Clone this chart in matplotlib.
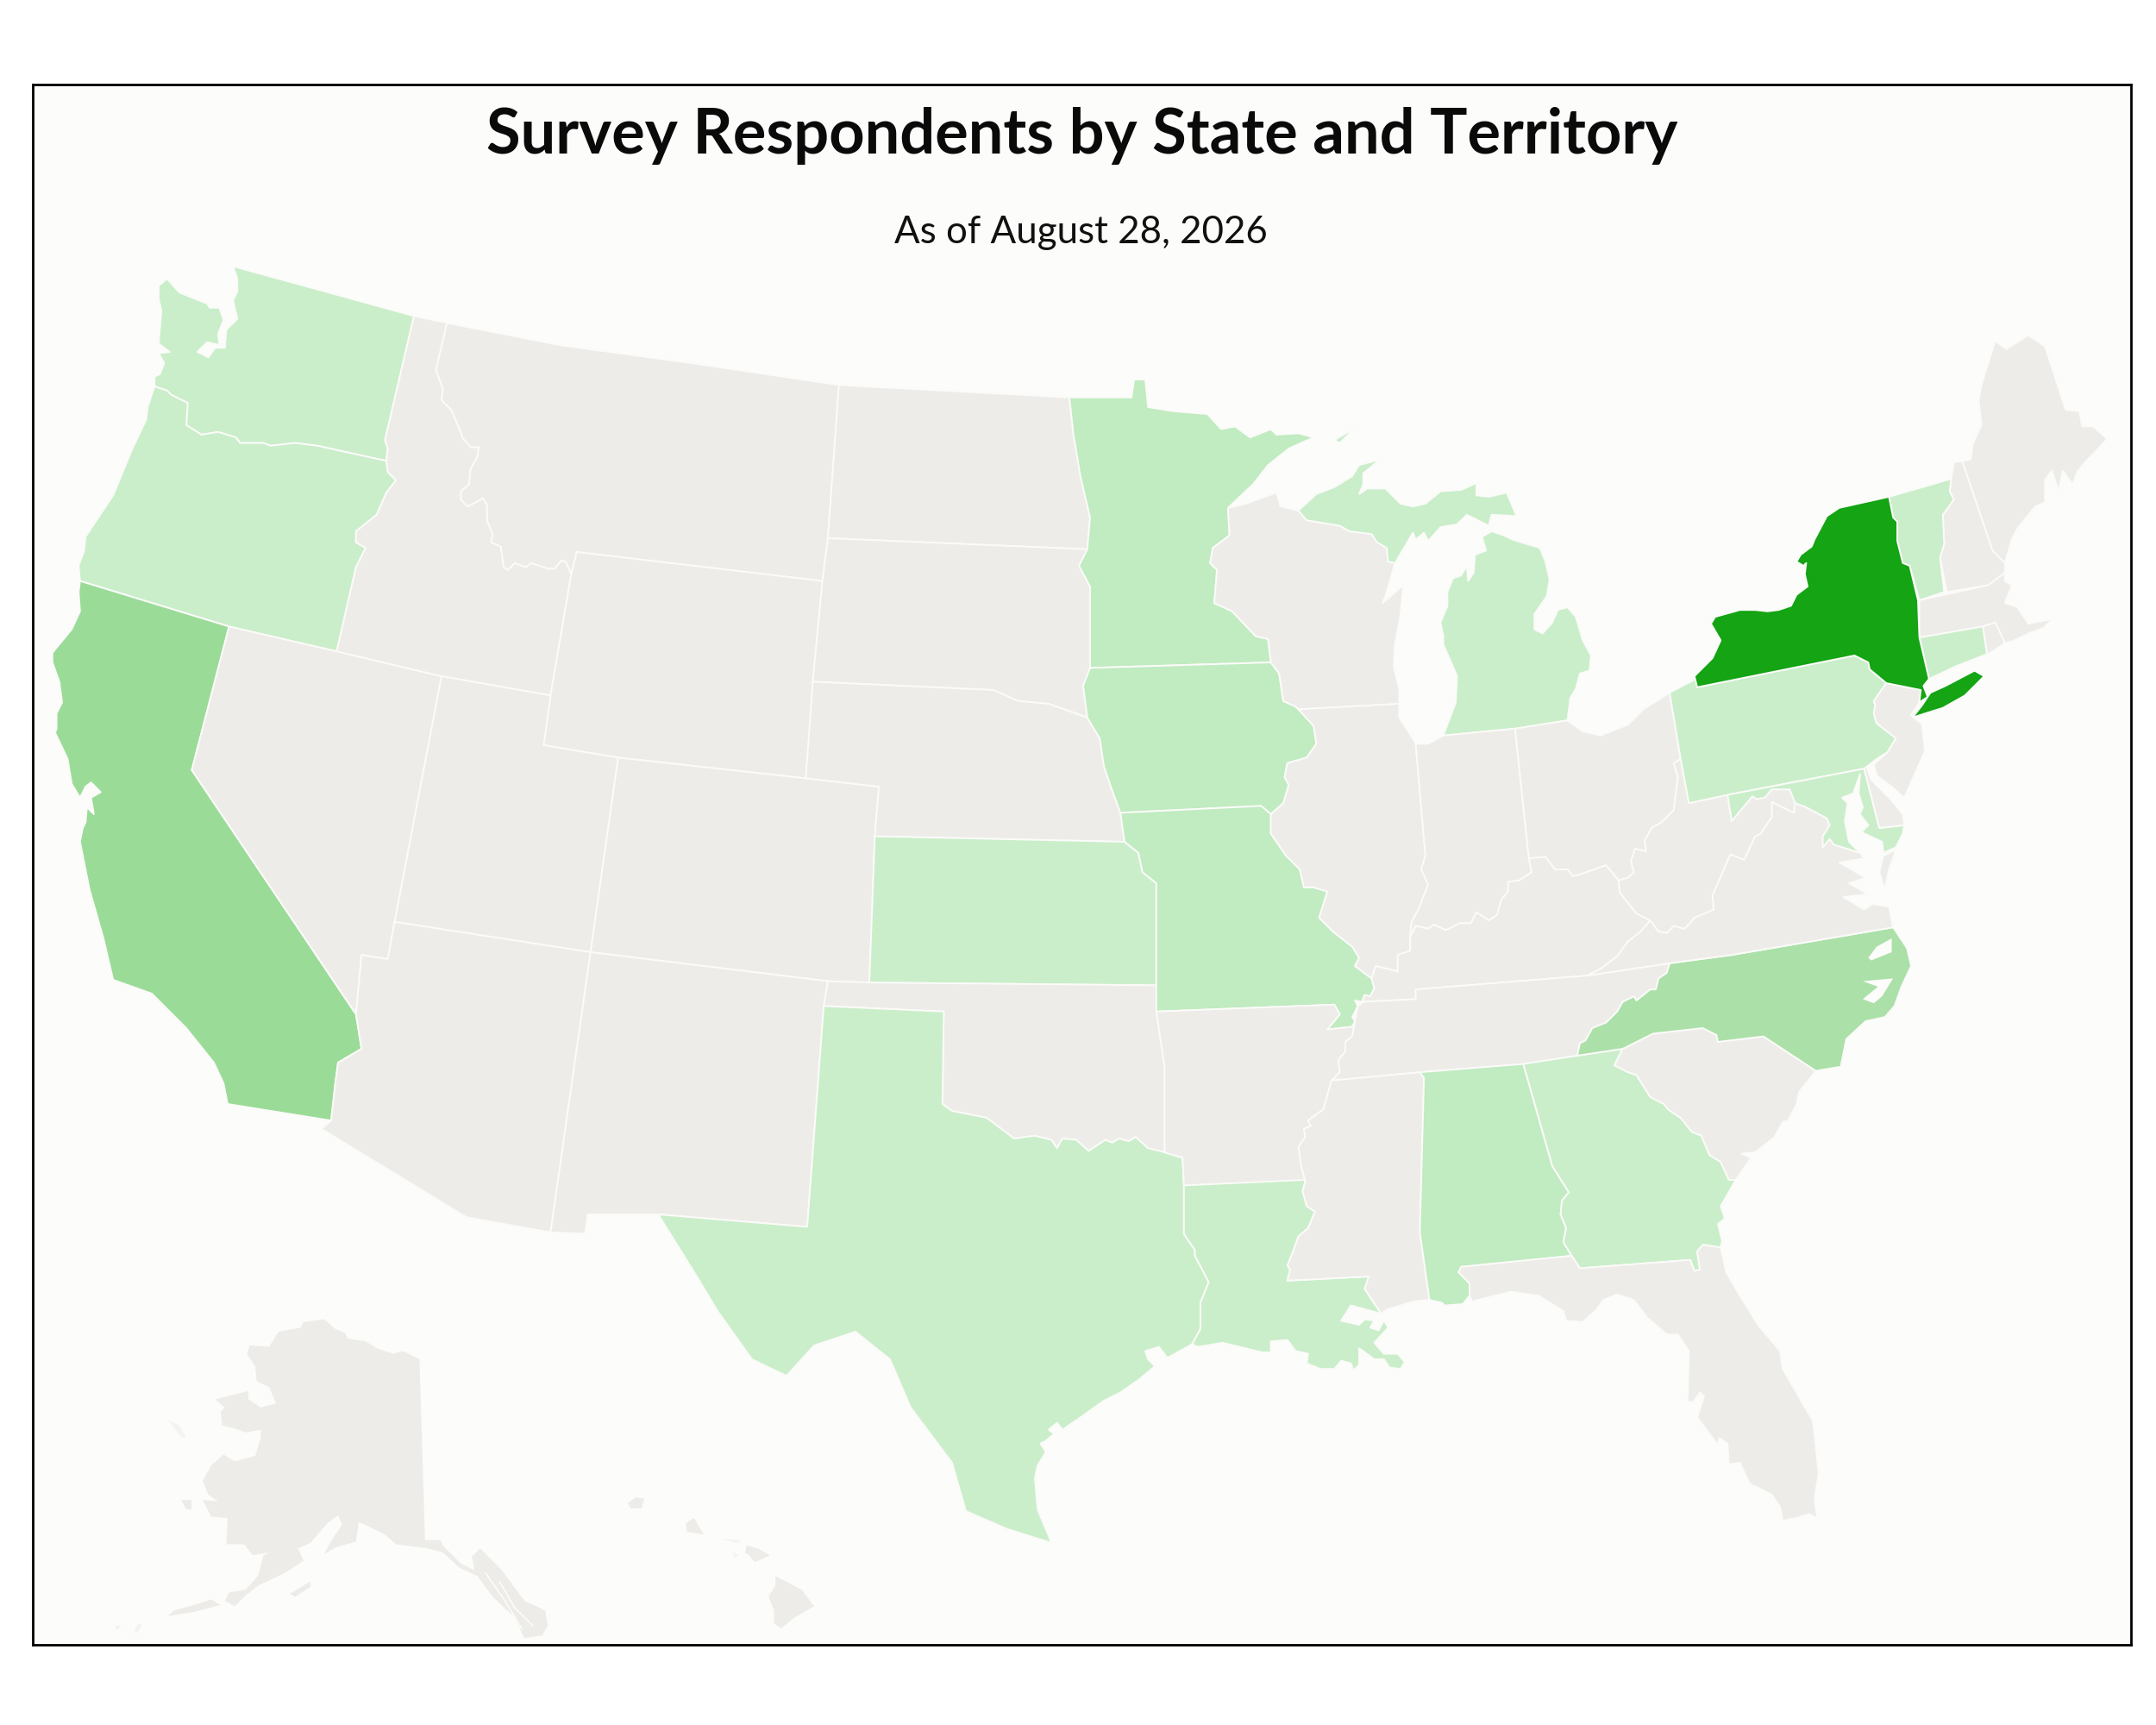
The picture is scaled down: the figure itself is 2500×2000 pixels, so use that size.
import matplotlib
matplotlib.use('Agg')
import matplotlib.pyplot as plt

# shared borders (page units, 1562.5 x 1250, y down)
wa_id = [(300,229),(279,319),(281,325),(280,334)]
wa_or = [(112,280),(121,283),(124,286),(136,292),(135,308),(146,315),(158,313),(171,317),(174,321),(191,321),(196,323),(214,321),(230,323),(280,334)]
wa_coast = [(169,193),(172,202),(172,211),(169,218),(172,231),(164,239),(163,252),(156,252),(151,259),(143,255),(150,248),(159,250),(158,242),(162,232),(159,223),(152,223),(150,220),(130,212),(121,202),(115,207),(115,217),(117,225),(115,249),(123,255),(115,256),(119,263),(116,271),(112,273),(112,280)]
or_coast = [(112,280),(107,295),(106,304),(96,325),(82,359),(72,374),(62,389),(61,399),(57,410),(58,421)]
or_id = [(280,334),(281,342),(287,348),(280,357),(273,373),(258,385),(258,393),(265,397),(258,411),(244,472)]
ca_nv = [(166,454),(139,558),(258,735)]
ca_az = [(258,735),(262,760),(245,770),(243,785),(240,812)]
ca_coast = [(58,421),(57,429),(58,443),(52,456),(38,473),(38,480),(43,494),(45,509),(41,517),(41,528),(40,531),(49,550),(52,568),(58,578),(62,570),(66,567),(73,574),(66,578),(68,590),(63,585),(62,596),(60,600),(58,610),(62,630),(65,645),(75,680),(82,710),(110,720),(125,735),(135,745),(155,770),(162,785),(165,800),(240,812)]
id_mt = [(324,234),(316,268),(321,282),(320,290),(327,297),(334,313),(335,317),(341,324),(347,324),(346,331),(341,340),(340,351),(334,356),(334,362),(339,367),(350,361),(353,366),(353,377),(357,387),(356,393),(363,396),(365,411),(368,413),(373,408),(381,411),(385,408),(397,412),(402,412),(407,406),(410,407),(414,416)]
red_river = [(683,800),(690,805),(715,810),(735,825),(750,823),(762,826),(766,832),(770,825),(780,826),(789,834),(801,826),(806,828),(811,825),(818,827),(823,824),(832,832),(844,835)]
tx_la = [(858,859),(858,894),(866,906),(866,910),(876,929),(870,944),(870,963),(864,974)]
ne_sd = [(589,494),(720,500),(738,508),(760,510),(788,520)]
mn_sd = [(775,288),(778,315),(783,345),(790,375),(788,398),(782,410),(790,425),(790,484)]
sd_ia = [(790,484),(785,497),(788,520)]
ia_ne = [(788,520),(797,535),(800,555),(805,570),(812,589)]
mn_wi = [(890,368),(891,388),(879,397),(877,408),(882,413),(880,437),(893,443),(910,461),(919,463),(921,480)]
ia_wi = [(921,480),(927,488),(930,508),(939,512),(941,514)]
ia_il = [(941,514),(952,526),(954,539),(947,549),(933,553),(931,563),(934,569),(930,582),(921,590)]
mo_il = [(921,590),(921,604),(932,620),(942,630),(945,643),(952,643),(962,646),(956,665),(966,675),(980,686),(985,694),(982,700),(994,709)]
mo_bootheel = [(994,709),(996,716),(993,722),(989,721),(987,726),(982,725),(984,729),(980,737),(982,740)]
ar_mo = [(838,733),(967,728),(971,735),(962,746),(980,744),(982,740)]
ar_tn = [(982,740),(980,751),(975,755),(975,762),(970,768),(971,777),(965,783)]
ar_ms = [(965,783),(959,804),(948,812),(950,816),(945,818),(946,824),(941,831),(943,845),(946,856)]
ms_la = [(946,856),(944,863),(947,874),(953,878),(948,890),(941,896),(937,907),(933,917),(935,920),(933,928),(992,925),(989,934),(1001,952)]
wi_up = [(941,370),(947,377),(971,381),(978,385),(994,387),(998,393),(1005,397),(1006,407),(1011,408)]
in_top = [(1026,539),(1035,539),(1046,533),(1098,528)]
in_il = [(1026,539),(1033,620),(1030,630),(1035,641),(1028,659),(1023,668),(1022,679)]
il_ky = [(1022,679),(1022,689),(1013,692),(1013,704),(997,700),(994,709)]
in_ky = [(1022,679),(1026,671),(1035,673),(1039,670),(1048,674),(1058,669),(1066,669),(1070,661),(1079,667),(1085,663),(1088,652),(1093,646),(1093,639),(1101,638),(1110,632),(1108,622)]
oh_ky = [(1108,622),(1120,621),(1127,630),(1136,630),(1140,635),(1147,633),(1164,627),(1173,638)]
oh_in = [(1098,528),(1108,622)]
oh_wv = [(1218,550),(1213,553),(1216,563),(1213,587),(1204,596),(1197,600),(1192,609),(1193,617),(1185,615),(1182,624),(1184,632),(1180,636),(1173,638)]
wv_ky = [(1173,638),(1174,647),(1186,662),(1196,667)]
va_ky = [(1150,707),(1160,702),(1172,693),(1180,682),(1188,676),(1196,667)]
wv_va = [(1196,667),(1202,675),(1208,676),(1213,671),(1221,673),(1228,665),(1242,659),(1241,649),(1254,619),(1264,623),(1272,606),(1276,604),(1284,592),(1284,581),(1300,589),(1301,582)]
md_wv = [(1252,576),(1255,595),(1270,577),(1273,579),(1279,578),(1284,572),(1297,572),(1301,582)]
md_va = [(1301,582),(1309,585),(1324,593),(1326,598),(1321,606),(1321,614),(1326,608),(1329,612),(1348,618)]
pa_nj = [(1367,495),(1358,508),(1359,511),(1358,517),(1360,524),(1374,535),(1368,545),(1360,550),(1351,557)]
ny_pa = [(1230,498),(1344,475),(1354,480),(1355,485),(1367,495)]
ny_nj = [(1367,495),(1392,500),(1391,509)]
ny_vt = [(1369,360),(1372,375),(1375,378),(1375,392),(1379,408),(1384,410),(1390,435)]
ny_ma_ct = [(1390,435),(1391,462),(1398,492)]
vt_nh = [(1414,347),(1413,356),(1416,362),(1408,373),(1409,394),(1406,404),(1409,429)]
nh_me = [(1422,334),(1444,399),(1453,408),(1453,415)]
va_nc = [(1210,698),(1255,692),(1372,672)]
nc_tn = [(1210,698),(1208,705),(1202,709),(1200,717),(1196,717),(1186,725),(1184,722),(1176,726),(1172,733),(1164,741),(1154,745),(1149,754),(1145,756),(1143,765)]
nc_sc = [(1176,760),(1198,749),(1234,745),(1244,750),(1245,755),(1278,751),(1316,776)]
ga_sc = [(1176,760),(1170,772),(1180,777),(1186,779),(1196,795),(1206,800),(1209,804),(1218,810),(1226,820),(1233,823),(1239,837),(1247,842),(1253,855),(1258,855)]
al_ga = [(1104,771),(1125,845),(1137,864),(1132,870),(1131,880),(1135,890),(1133,900),(1139,910)]
fl_top = [(1059,918),(1139,910),(1145,919),(1225,913),(1228,921),(1232,920),(1230,907),(1234,902),(1247,904)]
al_fl = [(1059,918),(1057,922),(1065,930),(1065,939)]
al_ms = [(1029,777),(1032,781),(1029,893),(1036,942)]

# states and territories
WA = wa_coast[:1] + wa_id + wa_or[::-1] + wa_coast[::-1]
OR = wa_or + or_id[1:] + [(166,454),(58,421)] + or_coast[::-1]
CA = [(58,421),(166,454)] + ca_nv[1:] + ca_az[1:] + ca_coast[::-1]
NV = ca_nv + [(262,692),(281,695),(286,668),(320,490),(244,472)]
ID = [(300,229)] + id_mt + [(399,504),(320,490)] + or_id[::-1] + wa_id[:-1][::-1]
MT = [(324,234),(405,250),(500,263),(608,279),(600,390),(596,421),(418,400)] + id_mt[::-1]
WY = [(418,400),(596,421),(584,564),(448,549),(394,540),(399,504),(414,416)]
UT = [(320,490),(399,504),(394,540),(448,549),(428,690),(286,668)]
CO = [(448,549),(584,564),(637,570),(634,606),(630,712),(600,711),(428,690)]
AZ = [(286,668),(428,690),(399,893),(338,882),(233,818)] + ca_az[::-1] + [(262,692),(281,695)]
NM = [(428,690),(600,711),(597,729),(585,889),(477,880),(426,880),(424,894),(399,893)]
ND = [(608,279),(775,288),(778,315),(783,345),(790,375),(788,398),(600,390)]
SD = [(600,390),(788,398),(782,410),(790,425),(790,484)] + sd_ia[1:] + ne_sd[::-1][1:] + [(596,421)]
NE = ne_sd + ia_ne[1:] + [(815,610),(634,606),(637,570),(584,564)]
KS = [(634,606),(815,610),(825,618),(828,632),(838,640),(838,714),(630,712)]
OK = [(600,711),(630,712),(838,714),(838,733),(844,773),(844,835)] + red_river[::-1] + [(684,733),(597,729)]
TX = [(597,729),(684,733)] + red_river + [(857,839)] + tx_la + [(846,984),(840,976),(830,979),(832,985),(837,990),(825,1000),(812,1009),(800,1015),(786,1025),(770,1036),(766,1031),(760,1036),(764,1039),(758,1044),(754,1046),(758,1052),(752,1062),(750,1071),(752,1094),(760,1113),(762,1118),(730,1108),(700,1095),(690,1060),(660,1020),(645,985),(620,965),(590,975),(570,997),(545,985),(520,950),(505,925),(477,880),(585,889)]
MN = [(775,288),(820,288),(822,275),(830,275),(832,295),(850,298),(875,300),(885,311),(895,309),(906,317),(921,311),(925,315),(941,314),(952,317),(934,325),(919,337),(908,351)] + mn_wi + [(790,484)] + mn_sd[::-1][1:]
IA = [(790,484),(921,480)] + ia_wi[1:] + ia_il[1:] + [(914,584),(812,589)] + ia_ne[::-1][1:] + [(785,497)]
MO = [(812,589),(914,584)] + mo_il + mo_bootheel[1:] + ar_mo[::-1][1:] + [(838,714),(838,640),(828,632),(825,618),(815,610)]
AR = ar_mo + ar_tn[1:] + ar_ms[1:] + [(858,859),(857,839),(844,835),(844,773)]
LA = tx_la + [(868,976),(886,973),(915,980),(921,980),(921,972),(933,971),(939,979),(948,981),(947,988),(957,992),(967,992),(972,986),(979,988),(981,993),(985,989),(985,977),(996,985),(1003,985),(1007,991),(1015,992),(1018,987),(1013,981),(1003,981),(996,973),(1006,962),(1003,957),(999,964),(993,962),(996,957),(989,956),(985,960),(972,957),(979,946),(1001,952)] + ms_la[::-1] + [(945,855)]
WI = [(890,368),(903,365),(925,357),(928,367)] + wi_up + [(1009,415),(1004,432),(1002,437),(1017,424),(1015,445),(1011,467),(1010,483),(1014,499),(1014,510)] + ia_il[:1] + ia_wi[::-1][1:] + mn_wi[::-1][1:]
UP = wi_up + [(1024,386),(1026,391),(1032,386),(1035,392),(1044,382),(1056,380),(1063,373),(1079,381),(1081,373),(1099,374),(1092,357),(1079,360),(1070,359),(1070,350),(1059,355),(1044,356),(1033,365),(1024,367),(1015,365),(1004,354),(991,354),(985,358),(988,351),(988,343),(1000,333),(985,337),(980,345),(967,353),(954,358)]
LP = [(1046,533),(1055,509),(1056,490),(1046,467),(1046,461),(1044,451),(1049,439),(1049,429),(1053,419),(1059,417),(1063,410),(1064,421),(1068,415),(1069,402),(1077,399),(1074,389),(1081,385),(1090,388),(1096,391),(1116,397),(1120,407),(1123,420),(1121,432),(1112,445),(1112,456),(1118,459),(1125,451),(1129,442),(1136,440),(1142,447),(1147,464),(1153,475),(1152,486),(1145,488),(1142,499),(1138,506),(1136,522),(1098,528)]
ISLE_ROYALE = [(967,319),(982,310),(971,321)]
IL = [(941,514),(1014,510),(1014,520),(1025,537)] + in_il + il_ky[1:] + mo_il[::-1][1:] + ia_il[::-1][1:]
IN = in_top + oh_in[1:] + in_ky[::-1][1:] + in_il[::-1][1:]
OH = [(1098,528),(1136,522),(1147,530),(1160,533),(1180,525),(1191,514),(1210,502),(1218,550)] + oh_wv[1:] + oh_ky[::-1][1:]
KY = in_ky + oh_ky[1:] + wv_ky[1:] + va_ky[::-1][1:] + [(1026,717),(1026,724),(988,726),(987,726),(989,721),(993,722),(996,716)] + il_ky[::-1]
TN = [(982,740),(984,729),(988,726),(1026,724),(1026,717),(1150,707)] + nc_tn + [(1104,771),(1029,777),(965,783)] + ar_tn[::-1][1:]
MS = [(965,783),(1029,777)] + al_ms[1:] + [(1025,943),(1005,949)] + ms_la[::-1] + ar_ms[::-1][1:]
AL = [(1029,777),(1104,771)] + al_ga[1:] + fl_top[:1] + al_fl[1:] + [(1060,945),(1047,946),(1045,944),(1036,942)] + al_ms[::-1][1:-1]
GA = [(1104,771),(1143,765),(1176,760)] + ga_sc[1:] + [(1247,874),(1250,883),(1245,887),(1248,899),(1247,904),(1234,902),(1230,907),(1232,920),(1228,921),(1225,913),(1145,919),(1139,910)] + al_ga[::-1][1:]
FL = fl_top + [(1251,922),(1261,939),(1274,960),(1290,979),(1292,992),(1314,1030),(1318,1068),(1315,1086),(1317,1100),(1311,1097),(1302,1100),(1292,1102),(1290,1092),(1284,1083),(1268,1075),(1261,1060),(1253,1061),(1252,1046),(1246,1042),(1245,1047),(1230,1027),(1235,1012),(1232,1009),(1227,1016),(1223,1016),(1224,979),(1216,967),(1208,967),(1194,955),(1184,942),(1172,938),(1162,942),(1157,949),(1147,958),(1135,957),(1133,950),(1115,939),(1095,936),(1067,943),(1065,939)] + al_fl[::-1][1:]
SC = nc_sc + [(1304,791),(1302,800),(1296,812),(1292,813),(1286,824),(1272,835),(1262,836),(1269,839),(1258,855)] + ga_sc[::-1][1:]
NC = [(1143,765)] + nc_tn[::-1][1:] + va_nc[1:] + [(1382,687),(1385,700),(1378,715),(1373,729),(1366,737),(1352,740),(1338,753),(1334,773),(1316,776)] + nc_sc[::-1]
NC_SOUND1 = [(1371,680),(1360,686),(1354,694),(1356,696),(1371,690)]
NC_SOUND2 = [(1372,709),(1350,711),(1361,715),(1350,724),(1358,727),(1364,722)]
VA = va_ky + wv_va[1:] + md_va[1:] + [(1351,622),(1333,625),(1352,636),(1340,640),(1354,648),(1336,650),(1351,659),(1357,655),(1369,657),(1372,672),(1255,692),(1210,698)]
VA_SHORE = [(1365,620),(1374,616),(1369,630),(1366,645),(1362,632)]
WV = [(1218,550),(1224,582),(1252,576)] + md_wv[1:] + wv_va[::-1][1:] + wv_ky[::-1][1:] + oh_wv[::-1][1:]
PA = [(1210,502),(1229,492)] + ny_pa + pa_nj[1:] + [(1252,576),(1224,582),(1218,550)]
NJ = ny_nj + [(1385,518),(1393,525),(1395,544),(1389,558),(1380,578),(1371,570),(1360,562),(1358,554)] + pa_nj[::-1][2:]
DE = [(1351,557),(1362,600),(1380,598),(1379,590),(1369,578),(1356,565),(1353,556)]
MD = [(1351,557),(1362,600),(1380,598),(1379,604),(1374,614),(1365,618),(1364,610),(1349,603),(1354,598),(1348,590),(1350,585),(1347,575),(1348,561),(1343,575),(1335,578),(1339,582),(1337,595),(1340,610),(1348,618)] + md_va[::-1][1:] + md_wv[::-1][1:]
NY = [(1228,490),(1241,477),(1247,464),(1240,452),(1243,447),(1261,442),(1272,442),(1281,443),(1289,442),(1298,439),(1302,431),(1310,425),(1308,416),(1309,408),(1307,410),(1302,407),(1305,402),(1313,396),(1315,391),(1324,374),(1333,368)] + ny_vt + ny_ma_ct[1:] + [(1394,497),(1397,505),(1391,509)] + ny_nj[::-1][1:] + ny_pa[::-1]
LONG_ISLAND = [(1386,520),(1393,511),(1399,502),(1410,497),(1431,486),(1438,490),(1424,504),(1408,513),(1392,518)]
VT = [(1369,360),(1414,347)] + vt_nh[1:] + [(1391,435)] + ny_vt[::-1][1:]
NH = [(1416,335),(1422,334)] + nh_me[1:] + [(1441,424),(1411,429)] + vt_nh[::-1][1:]
ME = [(1422,334),(1428,333),(1430,321),(1436,308),(1434,290),(1436,279),(1446,247),(1454,253),(1470,243),(1482,251),(1497,297),(1507,298),(1509,309),(1517,309),(1527,318),(1519,327),(1511,335),(1506,341),(1502,351),(1495,341),(1492,356),(1487,341),(1482,348),(1482,364),(1475,367),(1462,383),(1458,391),(1453,408),(1444,399)]
MA = [(1391,435),(1441,424),(1453,415),(1453,421),(1458,424),(1453,437),(1462,440),(1470,452),(1485,449),(1490,446),(1481,455),(1470,459),(1460,464),(1453,466),(1446,451),(1437,454),(1391,462)]
CT = [(1391,462),(1437,454),(1440,474),(1417,483),(1398,492)]
RI = [(1437,454),(1446,451),(1453,466),(1441,474),(1440,474)]
AK = [(235,956),(243,963),(250,966),(252,970),(265,972),(273,977),(285,981),(292,979),(304,985),(308,1116),(319,1116),(321,1120),(334,1133),(344,1138),(342,1128),(348,1122),(363,1137),(380,1160),(395,1167),(397,1178),(393,1185),(380,1187),(373,1172),(357,1157),(346,1142),(333,1136),(321,1125),(310,1122),(287,1119),(279,1112),(267,1106),(260,1103),(258,1117),(244,1121),(235,1126),(241,1115),(248,1105),(245,1098),(237,1104),(225,1118),(216,1122),(220,1131),(206,1140),(187,1149),(178,1156),(170,1164),(163,1160),(166,1154),(178,1152),(187,1142),(191,1127),(195,1125),(183,1127),(177,1119),(164,1119),(165,1100),(153,1099),(147,1087),(158,1088),(151,1083),(147,1073),(153,1062),(162,1054),(170,1059),(185,1055),(189,1042),(189,1036),(178,1038),(170,1035),(161,1033),(160,1023),(163,1020),(156,1014),(180,1008),(180,1014),(189,1020),(200,1017),(195,1005),(186,1001),(185,990),(179,981),(181,975),(195,976),(202,965),(218,962),(220,958)]
ALEUT1 = [(153,1159),(160,1163),(141,1168),(122,1171),(126,1167),(141,1163)]
ALEUT2 = [(100,1177),(103,1177),(100,1183),(97,1183)]
ALEUT3 = [(84,1178),(88,1178),(84,1182)]
KODIAK = [(210,1155),(225,1146),(225,1150),(214,1157)]
NUNIVAK = [(131,1087),(139,1087),(139,1094),(135,1094)]
ST_LAWRENCE = [(122,1029),(130,1033),(135,1042),(131,1041)]
KAUAI = [(461,1085),(467,1086),(465,1093),(457,1093),(455,1089)]
OAHU = [(503,1100),(510,1112),(498,1110),(497,1104)]
MOLOKAI = [(523,1115),(537,1116),(533,1118)]
LANAI = [(531,1124),(535,1127),(532,1129)]
MAUI = [(541,1120),(549,1122),(558,1127),(547,1132),(543,1127),(540,1125)]
BIG_ISLAND = [(562,1142),(581,1152),(590,1164),(576,1172),(566,1180),(561,1176),(561,1167),(557,1157),(562,1149)]
panhandle_slits = [[(352,1140),(366,1160),(378,1180)], [(362,1146),(373,1165),(386,1178)]]

# shade of each state, 0 is no respondents
shades = ['#EDECE8', '#CAEECA', '#C1EBC1', '#ABE0A8', '#9BDB98', '#14A414']
states = [
    (WA, 1), (OR, 1), (CA, 4), (NV, 0), (ID, 0), (MT, 0), (WY, 0), (UT, 0), (CO, 0), (AZ, 0), (NM, 0),
    (ND, 0), (SD, 0), (NE, 0), (KS, 1), (OK, 0), (TX, 1), (MN, 2), (IA, 2), (MO, 2), (AR, 0), (LA, 1),
    (WI, 0), (UP, 1), (LP, 1), (ISLE_ROYALE, 1), (IL, 0), (IN, 0), (OH, 0), (KY, 0), (TN, 0), (MS, 0),
    (AL, 2), (GA, 1), (FL, 0), (SC, 0), (NC, 3), (VA, 0), (VA_SHORE, 0), (WV, 0), (PA, 1), (NJ, 0),
    (MD, 1), (DE, 0), (ME, 0), (NH, 0), (VT, 1), (MA, 0), (RI, 0), (CT, 1), (NY, 5), (LONG_ISLAND, 5),
]
small_land = [AK, ALEUT1, KODIAK, NUNIVAK, KAUAI, OAHU, MAUI, BIG_ISLAND]
faint_land = [ALEUT2, ALEUT3, ST_LAWRENCE, MOLOKAI, LANAI]
water = [NC_SOUND1, NC_SOUND2]

title_text = 'Survey Respondents by State and Territory'
sub_text = 'As of August 28, 2026'

fig = plt.figure(figsize=(25, 20), dpi=100, facecolor='white')
left, right, top, bottom = 23.5, 1544.5, 61.5, 1192
ax = fig.add_axes([left/1562.5, 1-bottom/1250, (right-left)/1562.5, (bottom-top)/1250])
ax.set_xlim(left, right)
ax.set_ylim(bottom, top)
ax.set_facecolor('#FCFCFA')
ax.set_xticks([])
ax.set_yticks([])
for s in ax.spines.values():
    s.set_linewidth(2.0)
    s.set_color('black')

for shape, level in states:
    xs, ys = zip(*shape)
    ax.fill(xs, ys, facecolor=shades[level], edgecolor='#FBFBF9', linewidth=1.4, joinstyle='round')
for shape in small_land:
    xs, ys = zip(*shape)
    ax.fill(xs, ys, facecolor=shades[0], edgecolor='none')
for shape in faint_land:
    xs, ys = zip(*shape)
    ax.fill(xs, ys, facecolor='#F4F3F0', edgecolor='none')
for shape in water:
    xs, ys = zip(*shape)
    ax.fill(xs, ys, facecolor='#FCFCFA', edgecolor='none')
for slit in panhandle_slits:
    xs, ys = zip(*slit)
    ax.plot(xs, ys, color='#FCFCFA', linewidth=1.2)

ax.text(784, 111, title_text, ha='center', va='baseline', fontsize=52, fontweight='bold',
        family='Lato', color='#0A0A0A')
ax.text(783.5, 176, sub_text, ha='center', va='baseline', fontsize=31.6, family='Lato', color='#111111')

fig.savefig('out.png', dpi=100, facecolor='white')
